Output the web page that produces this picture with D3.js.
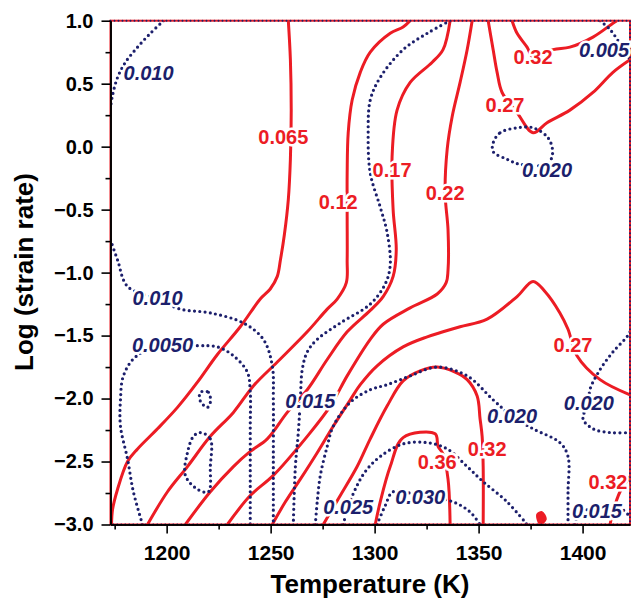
<!DOCTYPE html>
<html lang="en">
  <head>
    <meta charset="utf-8">
    <title>Processing map</title>
    <script src="https://d3js.org/d3.v7.min.js"></script>
    <style>
      body { margin: 0; background: #fff; }
      text { font-family: "Liberation Sans", Arial, sans-serif; font-weight: bold; }
    </style>
  </head>

  <body>

    <script>

// Axis ticks

  var tempTicks = [1200, 1250, 1300, 1350, 1400];
  var tempMinor = [1175, 1225, 1275, 1325, 1375];
  var rateTicks = [1.0, 0.5, 0.0, -0.5, -1.0, -1.5, -2.0, -2.5, -3.0];
  var rateMinor = [0.75, 0.25, -0.25, -0.75, -1.25, -1.75, -2.25, -2.75];

// Efficiency contours (red, solid) as [temperature K, log strain rate]

  var eff065 = [[1258.5,1.0],[1259.5,0.69],[1259.9,0.29],[1259.5,-0.10],[1258.5,-0.42],[1256.6,-0.70],[1254.7,-0.90],[1253.2,-1.03],[1249.8,-1.13],[1245.0,-1.21],[1235.4,-1.43],[1224.4,-1.65],[1214.8,-1.87],[1205.2,-2.07],[1195.6,-2.24],[1186.0,-2.40],[1181.2,-2.50],[1176.4,-2.72],[1174.0,-2.88],[1173.5,-3.0]];
  var eff12 = [[1317.1,1.0],[1313.7,0.95],[1307.5,0.90],[1297.9,0.75],[1293.1,0.59],[1289.2,0.37],[1287.3,0.11],[1286.8,-0.21],[1286.8,-0.56],[1286.8,-0.90],[1286.4,-1.08],[1282.0,-1.21],[1277.2,-1.29],[1267.6,-1.47],[1253.2,-1.71],[1241.7,-1.90],[1232.1,-2.11],[1221.0,-2.30],[1210.0,-2.54],[1200.4,-2.74],[1190.8,-3.0]];
  var eff17 = [[1336.3,1.0],[1332.9,0.77],[1327.7,0.67],[1317.1,0.51],[1310.8,0.29],[1308.4,-0.08],[1308.9,-0.50],[1310.4,-0.82],[1308.9,-1.03],[1304.1,-1.19],[1297.9,-1.30],[1286.8,-1.47],[1277.2,-1.69],[1267.6,-1.93],[1258.0,-2.11],[1248.4,-2.32],[1240.2,-2.42],[1232.1,-2.54],[1221.0,-2.74],[1209.0,-3.0]];
  var eff22 = [[1346.9,1.0],[1344.5,0.77],[1341.1,0.51],[1337.3,0.24],[1334.9,-0.02],[1333.9,-0.37],[1335.3,-0.66],[1335.3,-0.98],[1334.4,-1.08],[1330.1,-1.17],[1317.1,-1.28],[1304.1,-1.41],[1297.9,-1.53],[1286.8,-1.82],[1278.7,-2.06],[1267.6,-2.30],[1251.3,-2.61],[1240.2,-2.77],[1229.2,-3.0]];
  var eff27low = [[1422.8,-1.97],[1408.4,-1.85],[1397.3,-1.66],[1393.0,-1.45],[1389.1,-1.32],[1381.9,-1.15],[1376.2,-1.07],[1368.5,-1.19],[1354.1,-1.37],[1341.1,-1.43],[1332.9,-1.47],[1325.3,-1.51],[1313.7,-1.59],[1301.2,-1.74],[1293.1,-1.89],[1288.3,-2.01],[1280.1,-2.22],[1272.4,-2.43],[1264.3,-2.64],[1257.1,-2.82],[1250.8,-3.0]];
  var eff27top = [[1354.6,1.0],[1357.0,0.77],[1358.9,0.59],[1361.3,0.43],[1368.5,0.27],[1376.2,0.11],[1382.9,0.19],[1393.9,0.29],[1405.0,0.43],[1414.6,0.59],[1422.8,0.69]];
  var eff32arch = [[1275.3,-3.0],[1283.5,-2.77],[1291.6,-2.54],[1297.9,-2.32],[1306.0,-2.06],[1313.7,-1.86],[1321.9,-1.78],[1330.1,-1.75],[1338.7,-1.79],[1344.5,-1.85],[1349.3,-1.98],[1350.7,-2.16],[1351.7,-2.30],[1352.2,-2.54],[1352.2,-3.0]];
  var eff32top = [[1366.1,1.0],[1368.5,0.90],[1373.3,0.79],[1376.2,0.71],[1385.8,0.77],[1393.9,0.79],[1405.0,0.87],[1414.6,0.98],[1416.5,1.0]];
  var eff32right = [[1422.8,-2.62],[1418.0,-2.74],[1414.6,-2.90],[1413.2,-3.0]];
  var eff36 = [[1300.3,-3.0],[1302.7,-2.82],[1307.5,-2.54],[1313.7,-2.31],[1329.1,-2.28],[1330.5,-2.38],[1332.9,-2.44],[1335.3,-2.64],[1336.3,-3.0]];
  var eff36spot = [[1378.1,-2.92],[1380.5,-2.90],[1382.4,-2.96],[1379.5,-3.0]];

// Instability contours (blue, dotted)

  var ins010top = [[1198.5,1.0],[1192.2,0.90],[1186.0,0.79],[1180.2,0.67],[1176.4,0.55],[1174.0,0.41],[1173.0,0.31]];
  var ins010 = [[1173.0,-0.74],[1176.4,-0.90],[1181.2,-1.11],[1195.6,-1.21],[1206.6,-1.29],[1221.0,-1.32],[1236.9,-1.40],[1246.5,-1.53],[1250.8,-1.74],[1251.3,-2.01],[1251.3,-2.48],[1251.3,-3.0]];
  var ins005 = [[1188.4,-3.0],[1184.0,-2.74],[1181.2,-2.48],[1177.8,-2.22],[1177.8,-2.01],[1179.2,-1.82],[1185.0,-1.67],[1198.0,-1.58],[1214.8,-1.58],[1224.4,-1.59],[1232.1,-1.66],[1238.8,-1.79],[1240.2,-1.95],[1240.2,-2.22],[1240.2,-2.61],[1240.2,-3.0]];
  var ins015 = [[1336.3,1.0],[1325.3,0.90],[1313.7,0.77],[1302.7,0.55],[1297.9,0.37],[1296.9,0.11],[1297.9,-0.21],[1302.7,-0.48],[1306.0,-0.68],[1307.5,-0.94],[1305.1,-1.09],[1297.9,-1.25],[1283.5,-1.40],[1272.4,-1.53],[1267.6,-1.63],[1265.2,-1.77],[1264.3,-2.01],[1263.3,-2.27],[1261.9,-2.54],[1260.9,-3.0]];
  var ins015right = [[1396.3,-3.0],[1398.7,-2.90],[1406.9,-2.88],[1418.9,-2.88],[1421.8,-2.92]];
  var ins020 = [[1271.5,-3.0],[1272.4,-2.82],[1273.9,-2.61],[1277.2,-2.38],[1280.1,-2.22],[1288.3,-2.03],[1297.9,-1.93],[1306.0,-1.89],[1317.1,-1.82],[1330.1,-1.75],[1344.5,-1.82],[1357.0,-2.01],[1366.1,-2.14],[1376.2,-2.24],[1389.1,-2.35],[1393.0,-2.46],[1393.0,-2.74],[1393.0,-3.0]];
  var ins020right = [[1422.8,-1.47],[1421.3,-1.51],[1414.6,-1.63],[1408.4,-1.77],[1403.5,-1.93],[1403.0,-2.03],[1400.2,-2.16],[1405.0,-2.24],[1413.2,-2.27],[1422.8,-2.27]];
  var ins025 = [[1284.9,-3.0],[1287.3,-2.86],[1290.7,-2.72],[1295.5,-2.58],[1302.7,-2.46],[1313.7,-2.36],[1325.3,-2.35],[1334.9,-2.40],[1344.5,-2.54],[1352.2,-2.66],[1363.7,-2.82],[1373.3,-3.0]];
  var ins030 = [[1301.2,-3.0],[1305.1,-2.85],[1308.9,-2.74],[1321.9,-2.77],[1337.7,-2.82],[1345.9,-2.90],[1350.7,-3.0]];
  var ins005top = [[1408.4,1.0],[1413.2,0.93],[1418.0,0.82],[1421.8,0.73],[1422.8,0.67]];

// Closed instability islands

  var loopA = [[1216.2,-1.95],[1220.1,-1.95],[1221.0,-2.03],[1219.6,-2.07],[1216.2,-2.02]];
  var loopB = [[1216.2,-2.27],[1221.0,-2.32],[1221.0,-2.54],[1220.1,-2.74],[1214.8,-2.72],[1209.0,-2.61],[1210.0,-2.43],[1212.9,-2.30]];
  var loopC = [[1357.0,0.03],[1360.3,0.11],[1368.5,0.15],[1376.2,0.15],[1382.9,0.08],[1385.3,0.0],[1385.3,-0.08],[1382.9,-0.14],[1369.9,-0.14],[1363.7,-0.10],[1357.0,-0.04]];

// Contour labels: [text, temperature, log strain rate]

  var effLabels = [["0.065",1256.1,0.08],["0.12",1282.5,-0.44],["0.17",1308.4,-0.18],["0.22",1333.9,-0.37],
                   ["0.27",1362.7,0.33],["0.32",1376.2,0.71],["0.27",1395.4,-1.57],["0.32",1354.1,-2.40],
                   ["0.36",1330.1,-2.50],["0.32",1412.2,-2.66]];
  var insLabels = [["0.010",1191.3,0.59],["0.010",1195.6,-1.20],["0.0050",1198.0,-1.57],["0.015",1269.1,-2.02],
                   ["0.020",1366.1,-2.14],["0.020",1382.9,-0.18],["0.005",1410.3,0.77],["0.020",1403.0,-2.03],
                   ["0.025",1287.3,-2.86],["0.030",1321.9,-2.78],["0.015",1406.9,-2.89]];

  var effLines = [eff065, eff12, eff17, eff22, eff27low, eff27top, eff32arch, eff32top, eff32right, eff36];
  var insLines = [ins010top, ins010, ins005, ins015, ins015right, ins020, ins020right, ins025, ins030, ins005top];
  var insLoops = [loopA, loopB, loopC];

  var red = "#ec1c24", navy = "#1c1f6c";

// Svg and scales

  var svg = d3.select("body")
    .append("svg")
      .attr("width", 635)
      .attr("height", 599);

  var x = d3.scaleLinear().domain([1173, 1422.8]).range([110.5, 630]);
  var y = d3.scaleLinear().domain([-3, 1]).range([524.5, 20.7]);

  var line = d3.line()
      .x(d => x(d[0]))
      .y(d => y(d[1]))
      .curve(d3.curveCatmullRom.alpha(0.5));

  var loop = d3.line()
      .x(d => x(d[0]))
      .y(d => y(d[1]))
      .curve(d3.curveCatmullRomClosed.alpha(0.5));

  svg.append("clipPath").attr("id", "plot")
    .append("rect")
      .attr("x", x(1173)).attr("y", y(1))
      .attr("width", x(1422.8) - x(1173)).attr("height", y(-3) - y(1));

  var plot = svg.append("g").attr("clip-path", "url(#plot)");

// Frame: red border with blue dots on top, right and bottom

  svg.append("rect")
      .attr("x", x(1173)).attr("y", y(1))
      .attr("width", x(1422.8) - x(1173)).attr("height", y(-3) - y(1))
      .attr("fill", "none")
      .attr("stroke", red)
      .attr("stroke-width", 2);

  svg.append("path")
      .attr("d", d3.line()([[x(1173), y(1)], [x(1422.8), y(1)], [x(1422.8), y(-3)], [x(1173), y(-3)]]))
      .attr("fill", "none")
      .attr("stroke", navy)
      .attr("stroke-width", 2)
      .attr("stroke-linecap", "round")
      .attr("stroke-dasharray", "0,4");

// Contours

  plot.selectAll("path.eff")
      .data(effLines)
    .enter().append("path")
      .attr("class", "eff")
      .attr("d", line)
      .attr("fill", "none")
      .attr("stroke", red)
      .attr("stroke-width", 3);

  plot.append("path")
      .attr("d", loop(eff36spot))
      .attr("fill", red)
      .attr("stroke", red)
      .attr("stroke-width", 1.5);

  plot.selectAll("path.ins")
      .data(insLines)
    .enter().append("path")
      .attr("class", "ins")
      .attr("d", line)
      .attr("fill", "none")
      .attr("stroke", navy)
      .attr("stroke-width", 3.2)
      .attr("stroke-linecap", "round")
      .attr("stroke-dasharray", "0,5.3");

  plot.selectAll("path.loop")
      .data(insLoops)
    .enter().append("path")
      .attr("class", "loop")
      .attr("d", loop)
      .attr("fill", "none")
      .attr("stroke", navy)
      .attr("stroke-width", 3.2)
      .attr("stroke-linecap", "round")
      .attr("stroke-dasharray", "0,5.3");

// Contour labels

  svg.selectAll("text.effl")
      .data(effLabels)
    .enter().append("text")
      .attr("class", "effl")
      .attr("x", d => x(d[1]))
      .attr("y", d => y(d[2]))
      .attr("dy", "0.36em")
      .attr("text-anchor", "middle")
      .attr("font-size", 20)
      .attr("fill", red)
      .attr("stroke", "#fff")
      .attr("stroke-width", 5)
      .attr("paint-order", "stroke")
      .text(d => d[0]);

  svg.selectAll("text.insl")
      .data(insLabels)
    .enter().append("text")
      .attr("class", "insl")
      .attr("x", d => x(d[1]))
      .attr("y", d => y(d[2]))
      .attr("dy", "0.36em")
      .attr("text-anchor", "middle")
      .attr("font-size", 20)
      .attr("font-style", "italic")
      .attr("fill", navy)
      .attr("stroke", "#fff")
      .attr("stroke-width", 5)
      .attr("paint-order", "stroke")
      .text(d => d[0]);

// Axes

  function styleAxis(g, size) {
    g.select(".domain").attr("stroke", "#000").attr("stroke-width", 1.6);
    g.selectAll(".tick line").attr("stroke", "#000").attr("stroke-width", 1.6);
    g.selectAll(".tick text").attr("font-size", size).attr("font-weight", "bold")
        .attr("font-family", "'Liberation Sans', Arial, sans-serif").attr("fill", "#000");
  }

  svg.append("g")
      .attr("transform", "translate(0," + y(-3) + ")")
      .call(d3.axisBottom(x).tickValues(tempMinor).tickSize(5).tickSizeOuter(0).tickFormat(""))
      .call(g => styleAxis(g, 21));

  svg.append("g")
      .attr("transform", "translate(0," + y(-3) + ")")
      .call(d3.axisBottom(x).tickValues(tempTicks).tickSize(9).tickSizeOuter(0).tickPadding(12).tickFormat(d3.format("d")))
      .call(g => styleAxis(g, 21));

  svg.append("g")
      .attr("transform", "translate(" + x(1173) + ",0)")
      .call(d3.axisLeft(y).tickValues(rateMinor).tickSize(5).tickSizeOuter(0).tickFormat(""))
      .call(g => styleAxis(g, 20));

  svg.append("g")
      .attr("transform", "translate(" + x(1173) + ",0)")
      .call(d3.axisLeft(y).tickValues(rateTicks).tickSize(9).tickSizeOuter(0).tickPadding(8).tickFormat(d3.format(".1f")))
      .call(g => styleAxis(g, 20));

// Axis titles

  svg.append("text")
      .attr("x", 370)
      .attr("y", 593)
      .attr("text-anchor", "middle")
      .attr("font-size", 26)
      .text("Temperature (K)");

  svg.append("text")
      .attr("transform", "translate(33,272) rotate(-90)")
      .attr("text-anchor", "middle")
      .attr("font-size", 26)
      .text("Log (strain rate)");

    </script>

  </body>

</html>
